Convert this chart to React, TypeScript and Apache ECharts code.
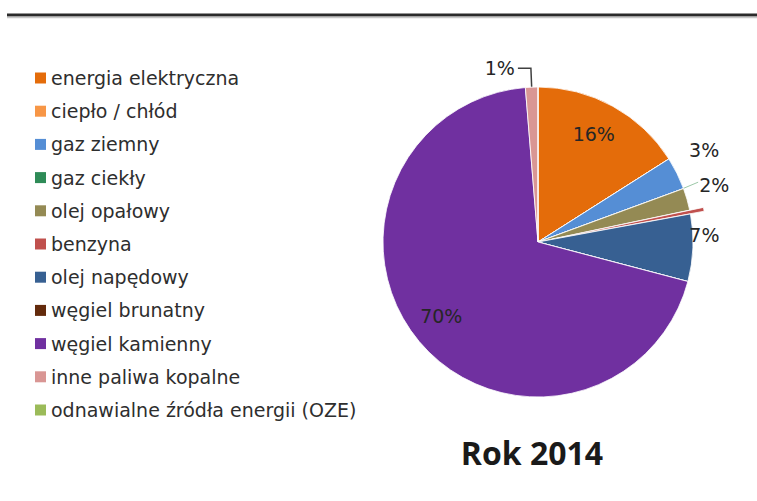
import React, { useEffect, useRef } from "react";
import * as echarts from "echarts";

// ---- data ----
const categories = [
  "energia elektryczna",
  "ciepło / chłód",
  "gaz ziemny",
  "gaz ciekły",
  "olej opałowy",
  "benzyna",
  "olej napędowy",
  "węgiel brunatny",
  "węgiel kamienny",
  "inne paliwa kopalne",
  "odnawialne źródła energii (OZE)",
];
const shares = [16.0, 0, 3.4, 0, 2.3, 0.4, 7.0, 0, 69.6, 1.3, 0];
const colors = [
  "#E46C0A",
  "#F79646",
  "#558ED5",
  "#2E8B57",
  "#948A54",
  "#C0504D",
  "#376092",
  "#632A0C",
  "#7030A0",
  "#D99694",
  "#9BBB59",
];
const titleText = "Rok 2014";

// ---- layout ----
const CX = 538;
const CY = 242;
const R = 155;
const FONT = "DejaVu Sans";

// label offsets (style) keyed by category
const insideAdjust: Record<string, { dx: number; dy: number }> = {
  "energia elektryczna": { dx: 17, dy: -37 },
  "gaz ziemny": { dx: 94, dy: -56 },
  "olej napędowy": { dx: 86, dy: -10 },
  "węgiel kamienny": { dx: -35, dy: 22 },
};

export default function App() {
  const ref = useRef<HTMLDivElement>(null);

  useEffect(() => {
    if (!ref.current) return;
    const chart = echarts.init(ref.current, undefined, { renderer: "svg" });
    const total = shares.reduce((a, b) => a + b, 0);
    const startDeg: number[] = [];
    let acc = 0;
    shares.forEach((v) => {
      startDeg.push((acc / total) * 360);
      acc += v;
    });

    const data = categories.map((name, i) => {
      const v = shares[i];
      const item: any = {
        name,
        value: v,
        itemStyle: { color: colors[i] },
      };
      const showLabel = v >= 1;
      if (!showLabel) {
        item.label = { show: false };
        item.labelLine = { show: false };
      } else if (insideAdjust[name]) {
        item.label = { show: true, position: "inside" };
        item.labelLine = { show: false };
      } else if (name === "inne paliwa kopalne") {
        item.label = {
          show: true,
          position: "outside",
          distanceToLabelLine: 3,
          padding: [0, 0, 12, 0],
        };
        item.labelLine = {
          show: true,
          length: 19,
          length2: 13,
          lineStyle: { color: "#404040", width: 1.5 },
        };
      } else {
        item.label = { show: true, position: "outside" };
        item.labelLine = {
          show: true,
          length: 10,
          length2: 10,
          lineStyle: { color: "#9cc8a8", width: 1 },
        };
      }
      if (name === "benzyna") item.selected = true;
      return item;
    });

    chart.setOption({
      animation: false,
      backgroundColor: "#ffffff",
      legend: {
        orient: "vertical",
        left: 35,
        top: 68,
        padding: 0,
        itemWidth: 11,
        itemHeight: 11,
        itemGap: 13.2,
        icon: "rect",
        selectedMode: false,
        itemStyle: { borderWidth: 0 },
        textStyle: {
          fontFamily: FONT,
          fontSize: 19,
          lineHeight: 20,
          color: "#2e2e2e",
        },
        data: categories,
      },
      graphic: [
        {
          type: "line",
          shape: { x1: 7, y1: 15, x2: 757, y2: 15 },
          style: { stroke: "#2b2b2b", lineWidth: 3 },
        },
        {
          type: "line",
          shape: { x1: 7, y1: 17.5, x2: 757, y2: 17.5 },
          style: { stroke: "#c8c8c8", lineWidth: 1.5 },
        },
        {
          type: "text",
          x: 532,
          y: 452,
          style: {
            text: titleText,
            fontFamily: "Open Sans",
            fontWeight: "bold",
            fontSize: 32,
            fill: "#1a1a1a",
            align: "center",
            verticalAlign: "middle",
          },
        },
      ],
      series: [
        {
          type: "pie",
          center: [CX, CY],
          radius: R,
          startAngle: 90,
          clockwise: true,
          avoidLabelOverlap: false,
          selectedMode: "single",
          selectedOffset: 14,
          emphasis: { disabled: true },
          itemStyle: { borderColor: "#ffffff", borderWidth: 0.8 },
          label: {
            fontFamily: FONT,
            fontSize: 19,
            color: "#262626",
            formatter: (p: any) => Math.round(p.value) + "%",
          },
          labelLayout: (p: any) => {
            const name = categories[p.dataIndex];
            const adj = insideAdjust[name];
            if (adj) return { dx: adj.dx, dy: adj.dy };
            if (name === "olej opałowy") {
              const a = (startDeg[p.dataIndex] * Math.PI) / 180;
              const x0 = CX + R * 0.97 * Math.sin(a);
              const y0 = CY - R * 0.97 * Math.cos(a);
              const x1 = x0 + 19;
              const y1 = y0 - 8;
              return {
                x: x1 + 1,
                y: y1 + 3,
                align: "left",
                verticalAlign: "middle",
                labelLinePoints: [
                  [x0, y0],
                  [x1, y1],
                  [x1, y1],
                ],
              };
            }
            return {};
          },
          data,
        },
      ],
    });

    return () => chart.dispose();
  }, []);

  return (
    <div
      ref={ref}
      style={{ position: "fixed", left: 0, top: 0, width: 757, height: 501 }}
    />
  );
}
